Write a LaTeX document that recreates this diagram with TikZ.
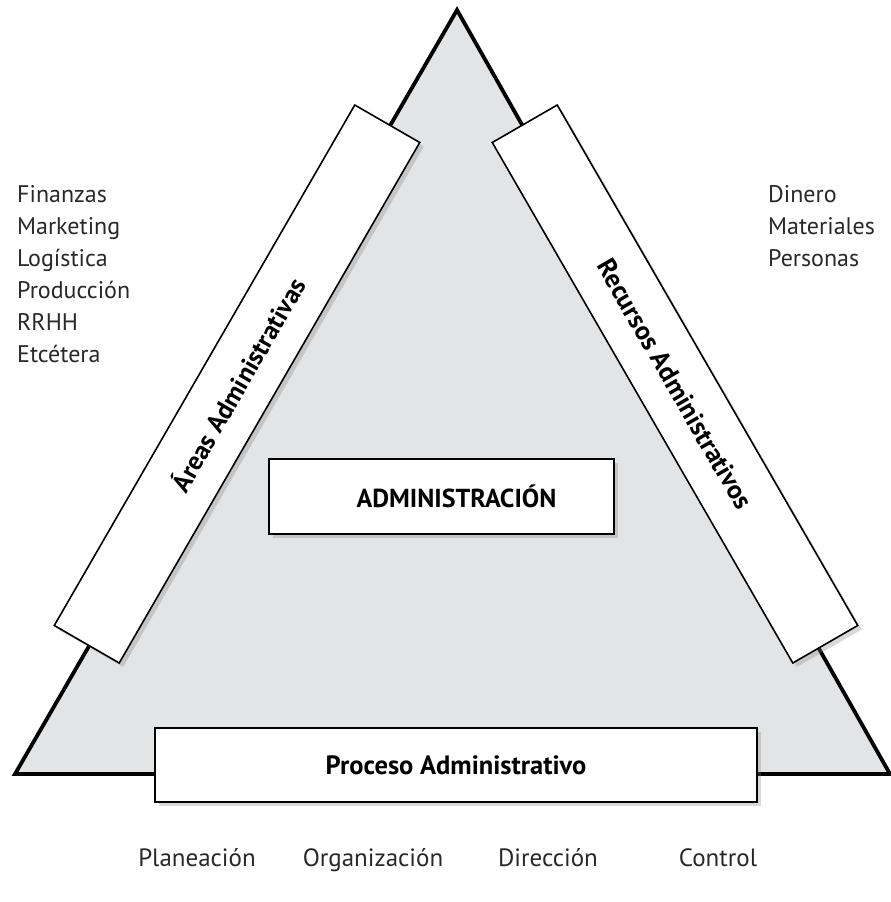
\documentclass[tikz,border=0pt]{standalone}
\usepackage{fontspec}
\setmainfont{PT Sans}
\usetikzlibrary{shadows}
\definecolor{trigray}{RGB}{227,228,229}
\definecolor{txtgray}{RGB}{40,40,40}

\begin{document}
\begin{tikzpicture}[x=1pt,y=-1pt,
		box/.style={draw, line width=1.6pt, fill=white, inner sep=0pt,
			drop shadow={shadow xshift=4pt, shadow yshift=-4pt, opacity=0.3}},
		lista/.style={align=left, anchor=north west, inner sep=0pt, text=txtgray,
			font=\fontsize{24}{32}\selectfont},
		paso/.style={inner sep=0pt, anchor=base, text=txtgray, font=\fontsize{25}{30}\selectfont}]
	\useasboundingbox (0,0) rectangle (891,902);
	% triangle
	\coordinate (apex) at (457,10);
	\coordinate (izq) at (15,774);
	\coordinate (der) at (890,774);
	\draw [line width=3.8pt, fill=trigray] (apex) -- (izq) -- (der) -- cycle;
	
	% side boxes
	\node (areas) [box, rotate=60, minimum width=601, minimum height=75,
		font=\bfseries\fontsize{26}{30}\selectfont] at (237,384) {Áreas Administrativas};
	\node (recursos) [box, rotate=-60, minimum width=601, minimum height=75,
		font=\bfseries\fontsize{26.5}{30}\selectfont] at (675,384) {Recursos Administrativos};
	\node (admin) [box, minimum width=345, minimum height=75,
		font=\bfseries\fontsize{26}{30}\selectfont] at (441.5,496.5) {\hspace*{30pt}ADMINISTRACIÓN};
	\node (proceso) [box, minimum width=602, minimum height=74,
		font=\bfseries\fontsize{26.5}{30}\selectfont] at (456,765) {Proceso Administrativo};
	
	% lists
	\node (areaslista) [lista] at (17,185) {Finanzas\\Marketing\\Logística\\Producción\\RRHH\\Etcétera};
	\node (recursoslista) [lista] at (768,185) {Dinero\\Materiales\\Personas};
	
	% steps
	\node (planeacion) [paso] at (197,866) {Planeación};
	\node (organizacion) [paso] at (373,866) {Organización};
	\node (direccion) [paso] at (548,866) {Dirección};
	\node (control) [paso] at (718,866) {Control};
\end{tikzpicture}
\end{document}
